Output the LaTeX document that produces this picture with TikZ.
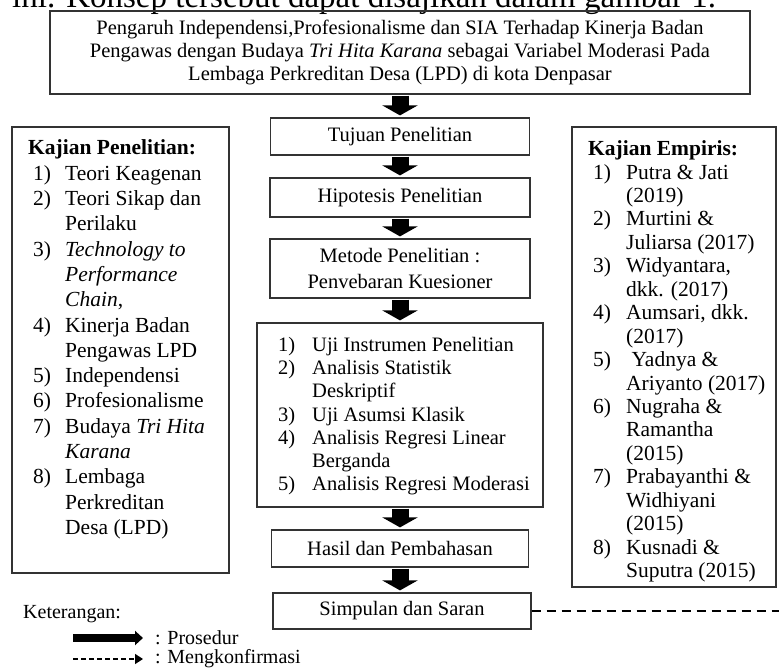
\documentclass[tikz,border=0pt]{standalone}
\usepackage{fontspec}
\setmainfont{Liberation Serif}
\usepackage{array}
\usetikzlibrary{arrows.meta}

\tikzset{
  box/.style={draw=black!80, line width=1.2pt, align=center, inner sep=0pt, font=\fontsize{20.5}{23}\selectfont},
  flow/.style={line width=17pt, -{Triangle[width=35pt,length=10pt]}, shorten <=1pt, shorten >=2pt},
  confirm/.style={line width=2.6pt, dash pattern=on 9pt off 6pt},
  listtext/.style={anchor=north west, inner sep=0pt, align=left},
  legend/.style={anchor=west, inner sep=0pt, font=\fontsize{20}{24}\selectfont}
}

\begin{document}
\begin{tikzpicture}[x=1pt,y=-1pt]
    \useasboundingbox (0,0) rectangle (779,668);
    \clip (0,0) rectangle (779,668);
    \node[anchor=base west, inner sep=0pt, font=\fontsize{33}{38}\selectfont] (intro) at (12,8) {ini. Konsep tersebut dapat disajikan dalam gambar 1.};

    % Boxes %
    \node[box, minimum width=700pt, minimum height=83pt] (judul) at (400,52.5) {Pengaruh Independensi,Profesionalisme dan SIA Terhadap Kinerja Badan\\ Pengawas dengan Budaya \textit{Tri Hita Karana} sebagai Variabel Moderasi Pada\\ Lembaga Perkreditan Desa (LPD) di kota Denpasar};
    \node[box, minimum width=259pt, minimum height=37pt] (tujuan) at (400,136.5) {Tujuan Penelitian};
    \node[box, minimum width=260pt, minimum height=39pt] (hipotesis) at (400,197.5) {Hipotesis Penelitian};
    \node[box, minimum width=260pt, minimum height=59pt] (metode) at (400,268.5) {Metode Penelitian :\\[3pt] Penvebaran Kuesioner};
    \node[box, minimum width=286pt, minimum height=184pt] (analisis) at (400,415) {};
    \node[box, minimum width=257pt, minimum height=37pt] (hasil) at (400,548.5) {Hasil dan Pembahasan};
    \node[box, minimum width=258pt, minimum height=36pt] (simpulan) at (402,611) {Simpulan dan Saran};
    \node[box, minimum width=217pt, minimum height=446pt] (kajianteori) at (120.5,350) {};
    \node[box, minimum width=204pt, minimum height=460pt] (kajianempiris) at (674,357) {};

    % Lists %
    \node[listtext, font=\fontsize{20.5}{23.2}\selectfont] (analisislist) at (278,335) {%
      \begin{tabular}{@{}w{l}{34pt}@{}l@{}}
        1) & Uji Instrumen Penelitian\\
        2) & Analisis Statistik\\
           & Deskriptif\\
        3) & Uji Asumsi Klasik\\
        4) & Analisis Regresi Linear\\
           & Berganda\\
        5) & Analisis Regresi Moderasi
      \end{tabular}};
    \node[listtext, font=\fontsize{21.5}{25.3}\selectfont] (teorilist) at (28,137) {%
      \begin{tabular}{@{\hspace{5pt}}w{l}{32pt}@{}l@{}}
        \multicolumn{2}{@{}l@{}}{\textbf{Kajian Penelitian:}}\\
        1) & Teori Keagenan\\
        2) & Teori Sikap dan\\
           & Perilaku\\
        3) & \textit{Technology to}\\
           & \textit{Performance}\\
           & \textit{Chain},\\
        4) & Kinerja Badan\\
           & Pengawas LPD\\
        5) & Independensi\\
        6) & Profesionalisme\\
        7) & Budaya \textit{Tri Hita}\\
           & \textit{Karana}\\
        8) & Lembaga\\
           & Perkreditan\\
           & Desa (LPD)
      \end{tabular}};
    \node[listtext, font=\fontsize{21.5}{23.44}\selectfont] (empirislist) at (588,139) {%
      \begin{tabular}{@{\hspace{5pt}}w{l}{33pt}@{}l@{}}
        \multicolumn{2}{@{}l@{}}{\textbf{Kajian Empiris:}}\\
        1) & Putra \& Jati\\
           & (2019)\\
        2) & Murtini \&\\
           & Juliarsa (2017)\\
        3) & Widyantara,\\
           & dkk. (2017)\\
        4) & Aumsari, dkk.\\
           & (2017)\\
        5) & \ Yadnya \&\\
           & Ariyanto (2017)\\
        6) & Nugraha \&\\
           & Ramantha\\
           & (2015)\\
        7) & Prabayanthi \&\\
           & Widhiyani\\
           & (2015)\\
        8) & Kusnadi \&\\
           & Suputra (2015)
      \end{tabular}};

    % Arrows %
    \draw[flow] (judul.south) -- (tujuan.north);
    \draw[flow] (tujuan.south) -- (hipotesis.north);
    \draw[flow] (hipotesis.south) -- (metode.north);
    \draw[flow] (metode.south) -- (analisis.north);
    \draw[flow] (analisis.south) -- (hasil.north);
    \draw[flow] (hasil.south) -- (hasil.south |- simpulan.north);
    \coordinate (tepi) at (790,611);
    \draw[confirm] (simpulan.east) -- (tepi);

    % Legend %
    \node[legend] (keterangan) at (23,614) {Keterangan:};
    \coordinate (prosedurawal) at (73,638);
    \node[legend] (prosedur) at (155,638) {: Prosedur};
    \draw[line width=8pt, -{Triangle[width=14pt,length=8pt]}, shorten >=12pt] (prosedurawal) -- (prosedur.west);
    \coordinate (konfirmasiawal) at (73,659);
    \node[legend] (konfirmasi) at (155,659) {: Mengkonfirmasi};
    \draw[line width=1.5pt, dash pattern=on 5pt off 3pt, -{Triangle[width=10pt,length=8pt]}, shorten >=12pt] (konfirmasiawal) -- (konfirmasi.west);
\end{tikzpicture}
\end{document}
